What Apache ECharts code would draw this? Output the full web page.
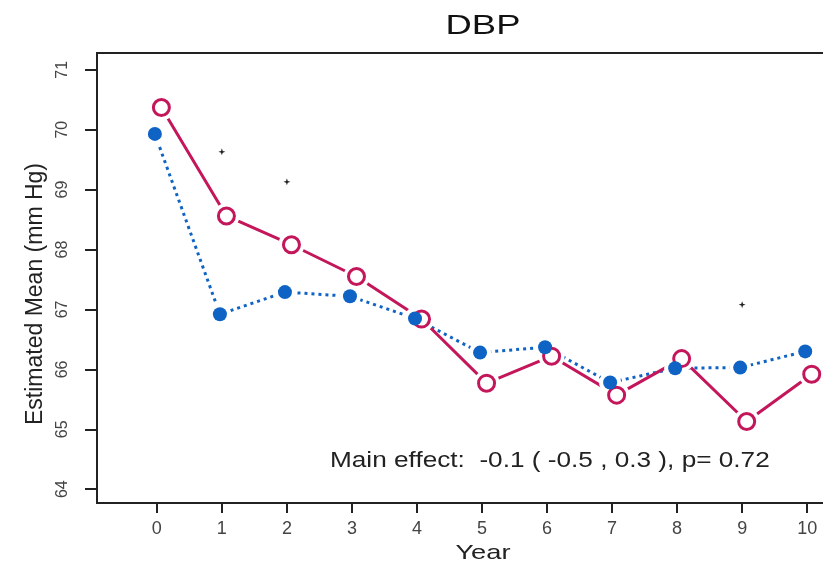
<!DOCTYPE html>
<html>
<head>
<meta charset="utf-8">
<script src="https://cdn.jsdelivr.net/npm/echarts@6/dist/echarts.min.js"></script>
<style>
  html, body { margin: 0; padding: 0; background: #fff; overflow: hidden; }
  #chart { width: 823px; height: 564px; }
</style>
</head>
<body>
<div id="chart"></div>
<script>
// Years on the x axis
const years = [0, 1, 2, 3, 4, 5, 6, 7, 8, 9, 10];
// Estimated mean DBP (mm Hg) per year, two groups
const groupOpen = [70.37, 68.56, 68.08, 67.55, 66.84, 65.77, 66.22, 65.57, 66.18, 65.13, 65.92];
const groupFilled = [69.93, 66.92, 67.29, 67.22, 66.85, 66.28, 66.37, 65.78, 66.02, 66.03, 66.30];
// Years flagged as significant, and the height of the flag
const starYears = [1, 2, 9];
const starValues = [69.63, 69.13, 67.08];
// Axis tick labels
const xTicks = [0, 1, 2, 3, 4, 5, 6, 7, 8, 9, 10];
const yTicks = [64, 65, 66, 67, 68, 69, 70, 71];
const titleText = 'DBP';
const xName = 'Year';
const yName = 'Estimated Mean (mm Hg)';
const effectText = 'Main effect:  -0.1 ( -0.5 , 0.3 ), p= 0.72';

const RED = '#C4165A';
const BLUE = '#0E63C4';
const FONT = '"Liberation Sans", Arial, sans-serif';
const font = (size) => size + 'px ' + FONT;

// small horizontal dodge so the two groups do not overlap exactly
const dodgeOpen = 0.07, dodgeFilled = -0.03;
const openPts = years.map((y, i) => [y + dodgeOpen, groupOpen[i]]);
const filledPts = years.map((y, i) => [y + dodgeFilled, groupFilled[i]]);
const starPts = starYears.map((y, i) => [y, starValues[i]]);

// four-point star used to flag significant years
const STAR = 'path://M0,-5 L1.2,-1.2 L5,0 L1.2,1.2 L0,5 L-1.2,1.2 L-5,0 L-1.2,-1.2 Z';

const chart = echarts.init(document.getElementById('chart'), null, { renderer: 'canvas' });

chart.setOption({
  backgroundColor: '#fff',
  animation: false,
  // the plotting box runs past the right edge of the canvas
  grid: {
    left: 97, top: 53, width: 770, height: 450,
    outerBoundsMode: 'none', containLabel: false,
    show: true, borderColor: '#222', borderWidth: 2, backgroundColor: 'transparent'
  },
  xAxis: {
    type: 'value', min: -0.92, max: 10.92,
    axisLine: { show: false, onZero: false },
    splitLine: { show: false },
    axisTick: { show: true, length: 10, customValues: xTicks, lineStyle: { color: '#222', width: 2 } },
    axisLabel: { customValues: xTicks, margin: 17, fontFamily: FONT, fontSize: 18, color: '#444' }
  },
  yAxis: {
    type: 'value', min: 63.77, max: 71.28,
    axisLine: { show: false, onZero: false },
    splitLine: { show: false },
    axisTick: { show: true, length: 12, customValues: yTicks, lineStyle: { color: '#222', width: 2 } },
    axisLabel: { customValues: yTicks, rotate: 90, margin: 26, fontFamily: FONT, fontSize: 16, color: '#444' }
  },
  graphic: [
    {
      type: 'text', x: 483, y: 26, scaleX: 1.3,
      style: { text: titleText, font: font(28), fill: '#111', align: 'center', verticalAlign: 'middle' }
    },
    {
      type: 'text', x: 483, y: 553, scaleX: 1.3,
      style: { text: xName, font: font(21), fill: '#222', align: 'center', verticalAlign: 'middle' }
    },
    {
      type: 'text', x: 36, y: 294, rotation: Math.PI / 2,
      style: { text: yName, font: font(23), fill: '#222', align: 'center', verticalAlign: 'middle' }
    },
    {
      type: 'text', x: 330, y: 461, scaleX: 1.19,
      style: { text: effectText, font: font(22), fill: '#222', align: 'left', verticalAlign: 'middle' }
    }
  ],
  series: [
    {
      name: 'filled-line', type: 'line', data: filledPts, showSymbol: false, z: 2,
      lineStyle: { color: BLUE, width: 3, type: [3, 4] }
    },
    {
      name: 'open-line', type: 'line', data: openPts, showSymbol: false, z: 2,
      lineStyle: { color: RED, width: 3 }
    },
    {
      name: 'gap-filled', type: 'scatter', data: filledPts, symbol: 'circle', symbolSize: 22, z: 3,
      itemStyle: { color: '#fff', opacity: 1 }, silent: true
    },
    {
      name: 'gap-open', type: 'scatter', data: openPts, symbol: 'circle', symbolSize: 26, z: 3,
      itemStyle: { color: '#fff', opacity: 1 }, silent: true
    },
    {
      name: 'filled', type: 'scatter', data: filledPts, symbol: 'circle', symbolSize: 14, z: 5,
      itemStyle: { color: BLUE, opacity: 1 }
    },
    {
      name: 'open', type: 'scatter', data: openPts, symbol: 'circle', symbolSize: 16, z: 4,
      itemStyle: { color: '#fff', borderColor: RED, borderWidth: 3, opacity: 1 }
    },
    {
      name: 'significant', type: 'scatter', data: starPts, symbol: STAR, symbolSize: 7, z: 5,
      itemStyle: { color: '#222', opacity: 1 }
    }
  ]
});
</script>
</body>
</html>
